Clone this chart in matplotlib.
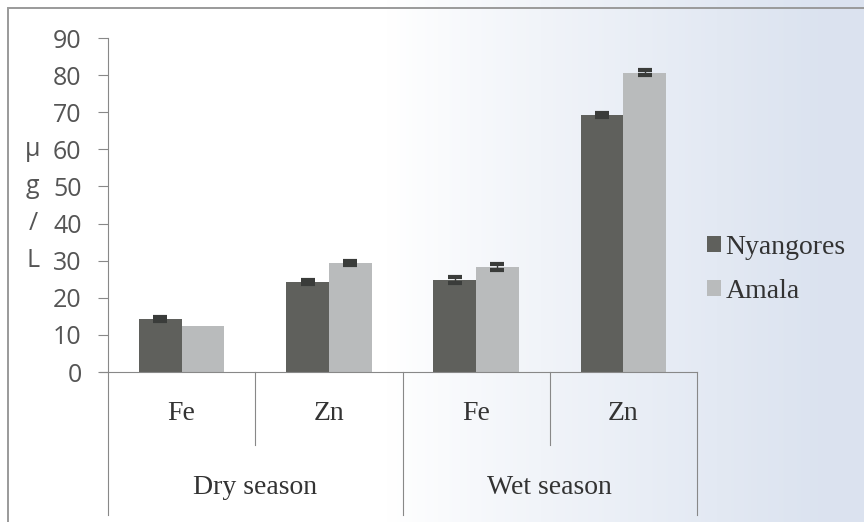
import numpy as np
import matplotlib
matplotlib.use("Agg")
import matplotlib.pyplot as plt
from matplotlib.lines import Line2D
from matplotlib.patches import Rectangle

# data
seasons = ["Dry season", "Wet season"]
metals = ["Fe", "Zn", "Fe", "Zn"]
nyangores = [14.3, 24.3, 24.8, 69.2]
amala = [12.4, 29.4, 28.3, 80.7]
nyangores_err = [0.5, 0.5, 0.7, 0.6]
amala_err = [np.nan, 0.6, 0.7, 0.6]
yticks = [0, 10, 20, 30, 40, 50, 60, 70, 80, 90]

W, H = 864, 522
fig = plt.figure(figsize=(W / 100, H / 100), dpi=100)

# scanned background: white on the left fading to pale blue on the right
bg = fig.add_axes([0, 0, 1, 1], zorder=-10)
grad = np.linspace(0, 1, 300)
grad = np.clip((grad - 0.45) / 0.5, 0, 1) ** 0.9
c0 = np.array([1.0, 1.0, 1.0])
c1 = np.array([0.86, 0.89, 0.94])
img = c0[None, None, :] * (1 - grad[None, :, None]) + c1[None, None, :] * grad[None, :, None]
bg.imshow(img, aspect="auto", extent=[0, 1, 0, 1])
bg.set_xlim(0, 1)
bg.set_ylim(0, 1)
bg.axis("off")
# frame of the chart
bg.add_patch(Rectangle((8 / W, -0.1), 1.2, 1 - 8 / H + 0.1, fill=False,
                       ec="#9a9a9a", lw=1.4))

left, right = 108 / W, 697 / W
bottom, top = 1 - 372 / H, 1 - 38 / H
ax = fig.add_axes([left, bottom, right - left, top - bottom])
ax.patch.set_alpha(0)

x = np.arange(len(metals))
w = 0.29
ax.bar(x - w / 2, nyangores, w, color="#5f605c", label="Nyangores", zorder=2)
ax.bar(x + w / 2, amala, w, color="#b9bbbc", label="Amala", zorder=2)
ax.errorbar(x - w / 2, nyangores, yerr=nyangores_err, fmt="none", ecolor="#3a3c3a",
            capsize=5, capthick=3, elinewidth=1, zorder=3)
ok = ~np.isnan(amala_err)
ax.errorbar((x + w / 2)[ok], np.array(amala)[ok], yerr=np.array(amala_err)[ok],
            fmt="none", ecolor="#3a3c3a", capsize=5, capthick=3, elinewidth=1, zorder=3)

ax.set_xlim(-0.5, len(metals) - 0.5)
ax.set_ylim(0, 90)
ax.set_yticks(yticks)
ax.tick_params(axis="y", length=7, width=0.8, color="#888888", labelsize=18,
               labelcolor="#555555", pad=12)
for lab in ax.get_yticklabels():
    lab.set_family(["Open Sans", "DejaVu Sans"])
ax.set_xticks([])
for s in ["top", "right"]:
    ax.spines[s].set_visible(False)
ax.spines["left"].set_color("#888888")
ax.spines["bottom"].set_color("#888888")
ax.spines["bottom"].set_bounds(-0.5 - 8 / 147, len(metals) - 0.5)

# stacked y label
for i, ch in enumerate(["μ", "g", "/", "L"]):
    ax.text(-0.5 - 75 / 147, 60 - 10 * i, ch, ha="center", va="center",
            fontsize=18, color="#555555", family=["Open Sans", "DejaVu Sans"],
            clip_on=False)

# two-level category axis
trans = ax.get_xaxis_transform()
px = (top - bottom) * H  # axis height in pixels
def yfrac(py):
    return -(py - 372) / px

for xb in [-0.5, 0.5, 1.5, 2.5, 3.5]:
    outer = xb in (-0.5, 1.5, 3.5)
    y_end = yfrac(515 if outer else 445)
    ax.add_line(Line2D([xb, xb], [0, y_end], transform=trans, color="#888888",
                       lw=0.8, clip_on=False))
for xi, m in zip(x, metals):
    ax.text(xi, yfrac(413), m, transform=trans, ha="center", va="center",
            fontsize=20, family="Liberation Serif", color="#333333")
for i, s in enumerate(seasons):
    ax.text(0.5 + 2 * i, yfrac(488), s, transform=trans, ha="center", va="center",
            fontsize=20, family="Liberation Serif", color="#333333")

leg = ax.legend(loc="center left", bbox_to_anchor=(0.975, 0.308), frameon=False,
                prop={"family": "Liberation Serif", "size": 20},
                handlelength=0.5, handleheight=0.5, handletextpad=0.15,
                labelspacing=0.68, labelcolor="#333333")

fig.savefig("out.png", dpi=100)
